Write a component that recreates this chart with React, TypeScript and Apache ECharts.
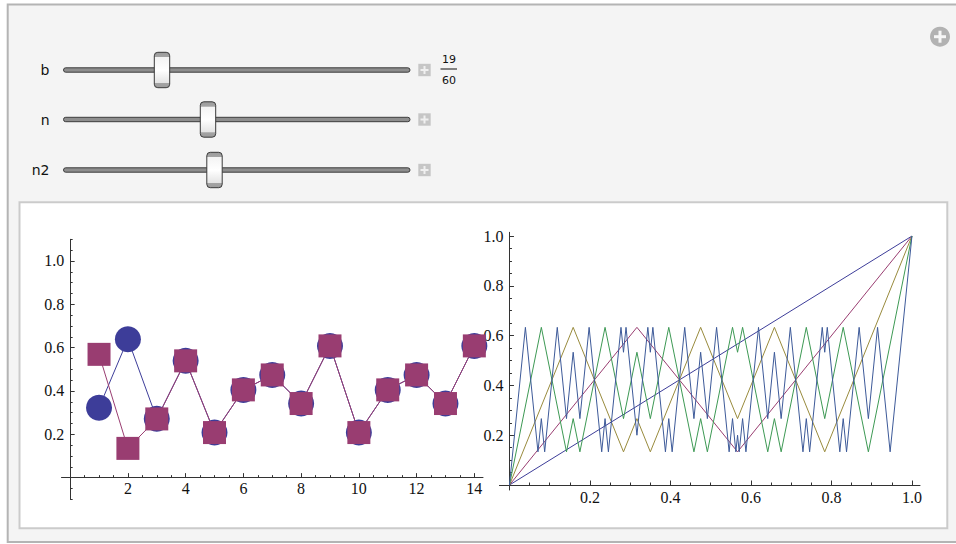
import React, { useEffect, useRef } from 'react';
import * as echarts from 'echarts';

// ---------- data ----------
const steps = [1, 2, 3, 4, 5, 6, 7, 8, 9, 10, 11, 12, 13, 14];
const orbitCircles = [0.323, 0.639, 0.272, 0.539, 0.208, 0.405, 0.474, 0.342, 0.608, 0.208, 0.405, 0.474, 0.342, 0.608];
const orbitSquares = [0.569, 0.135, 0.271, 0.539, 0.208, 0.405, 0.474, 0.342, 0.608, 0.208, 0.405, 0.474, 0.342, 0.608];

const f0X = [0, 1];
const f0Y = [0, 1];
const f1X = [0, 0.3167, 0.5667, 1];
const f1Y = [0, 0.6333, 0.1333, 1];
const f2X = [0, 0.1583, 0.2833, 0.3167, 0.35, 0.475, 0.5667, 0.6583, 0.7833, 1];
const f2Y = [0, 0.6333, 0.1333, 0.2667, 0.1333, 0.6333, 0.2667, 0.6333, 0.1333, 1];
const f3X = [0, 0.0792, 0.1417, 0.1583, 0.175, 0.2375, 0.2833, 0.3167, 0.35, 0.3958, 0.4583, 0.475, 0.4917, 0.5542, 0.5667, 0.5792, 0.6417, 0.6583, 0.675, 0.7375, 0.7833, 0.8292, 0.8917, 1];
const f3Y = [0, 0.6333, 0.1333, 0.2667, 0.1333, 0.6333, 0.2667, 0.5333, 0.2667, 0.6333, 0.1333, 0.2667, 0.1333, 0.6333, 0.5333, 0.6333, 0.1333, 0.2667, 0.1333, 0.6333, 0.2667, 0.6333, 0.1333, 1];
const f4X = [0, 0.0396, 0.0708, 0.0792, 0.0875, 0.1188, 0.1417, 0.1583, 0.175, 0.1979, 0.2292, 0.2375, 0.2458, 0.2771, 0.2833, 0.2896, 0.3167, 0.3438, 0.35, 0.3563, 0.3875, 0.3958, 0.4042, 0.4354, 0.4583, 0.475, 0.4917, 0.5146, 0.5458, 0.5542, 0.5625, 0.5667, 0.5708, 0.5792, 0.5875, 0.6188, 0.6417, 0.6583, 0.675, 0.6979, 0.7292, 0.7375, 0.7458, 0.7771, 0.7833, 0.7896, 0.8208, 0.8292, 0.8375, 0.8688, 0.8917, 0.9146, 0.9458, 1];
const f4Y = [0, 0.6333, 0.1333, 0.2667, 0.1333, 0.6333, 0.2667, 0.5333, 0.2667, 0.6333, 0.1333, 0.2667, 0.1333, 0.6333, 0.5333, 0.6333, 0.2, 0.6333, 0.5333, 0.6333, 0.1333, 0.2667, 0.1333, 0.6333, 0.2667, 0.5333, 0.2667, 0.6333, 0.1333, 0.2667, 0.1333, 0.2, 0.1333, 0.2667, 0.1333, 0.6333, 0.2667, 0.5333, 0.2667, 0.6333, 0.1333, 0.2667, 0.1333, 0.6333, 0.5333, 0.6333, 0.1333, 0.2667, 0.1333, 0.6333, 0.2667, 0.6333, 0.1333, 1];

const leftXMajor = [2, 4, 6, 8, 10, 12, 14];
const leftXMinor = [0.5, 1, 1.5, 2.5, 3, 3.5, 4.5, 5, 5.5, 6.5, 7, 7.5, 8.5, 9, 9.5, 10.5, 11, 11.5, 12.5, 13, 13.5];
const leftYMajor = [0.2, 0.4, 0.6, 0.8, 1.0];
const leftYMinor = [-0.1, -0.05, 0.05, 0.1, 0.15, 0.25, 0.3, 0.35, 0.45, 0.5, 0.55, 0.65, 0.7, 0.75, 0.85, 0.9, 0.95, 1.05, 1.1];
const rightMajor = [0.2, 0.4, 0.6, 0.8, 1.0];
const rightMinor = [0.05, 0.1, 0.15, 0.25, 0.3, 0.35, 0.45, 0.5, 0.55, 0.65, 0.7, 0.75, 0.85, 0.9, 0.95];

const sliderLabels = ['b', 'n', 'n2'];
const fracNum = '19';
const fracDen = '60';

// ---------- styles ----------
const C1 = '#3d3d99';
const C2 = '#993d71';
const C3 = '#998b3d';
const C4 = '#3d9954';
const C5 = '#3d5a99';
const SERIF = "'Liberation Serif', 'Times New Roman', serif";
const SANS = "'DejaVu Sans', 'Noto Sans', sans-serif";
const AX = '#333333';

// plot geometry (pixels)
const L = { left: 61.5, top: 239.3, width: 421.5, height: 260, xMin: -0.3, xMax: 14.3, yMin: -0.1, yMax: 1.1 };
const R = { left: 499.4, top: 232.3, width: 420.6, height: 257.7, xMin: -0.025, xMax: 1.02, yMin: -0.02, yMax: 1.015 };

function zeroOffsets(g: typeof L) {
  const xZeroPx = (0 - g.xMin) / (g.xMax - g.xMin) * g.width; // from grid left
  const yZeroPx = (0 - g.yMin) / (g.yMax - g.yMin) * g.height; // from grid bottom
  return { xAxisOffset: -yZeroPx, yAxisOffset: -xZeroPx };
}

function zip(xs: number[], ys: number[]) {
  return xs.map((x, i) => [x, ys[i]]);
}

function axisPair(gridIndex: number, position: string, offset: number, min: number, max: number, major: number[], minor: number[], margin: number, fmt: (v: number) => string) {
  const common = {
    type: 'value',
    gridIndex,
    position,
    offset,
    min,
    max,
    splitLine: { show: false },
  };
  return [
    {
      ...common,
      axisLine: { show: true, onZero: false, lineStyle: { color: AX, width: 1 } },
      axisTick: { show: true, inside: true, length: 4.5, customValues: major, lineStyle: { color: AX, width: 1 } },
      axisLabel: { show: true, customValues: major, margin, formatter: fmt, fontFamily: SERIF, fontSize: 16, color: '#111' },
    },
    {
      ...common,
      axisLine: { show: false, onZero: false },
      axisTick: { show: true, inside: true, length: 2.5, customValues: minor, lineStyle: { color: AX, width: 1 } },
      axisLabel: { show: false },
    },
  ];
}

function sliderGraphics() {
  const rows = [
    { y: 70, thumb: 162 },
    { y: 119.5, thumb: 208 },
    { y: 170, thumb: 214.5 },
  ];
  const els: any[] = [];
  rows.forEach((r, i) => {
    els.push({
      type: 'text', x: 49.5, y: r.y, style: { text: sliderLabels[i], fontFamily: SANS, fontSize: 14, fill: '#111', align: 'right', verticalAlign: 'middle' },
    });
    els.push({
      type: 'rect', shape: { x: 63.5, y: r.y - 2.2, width: 346.5, height: 4.4, r: 2.2 },
      style: { fill: '#8e8e8e', stroke: '#3c3c3c', lineWidth: 1 },
    });
    els.push({
      type: 'rect', shape: { x: r.thumb - 7.7, y: r.y - 17.7, width: 15.4, height: 35.4, r: 3.5 },
      style: {
        stroke: '#3a3a3a', lineWidth: 1,
        fill: new echarts.graphic.LinearGradient(0, 0, 0, 1, [
          { offset: 0, color: '#9c9c9c' }, { offset: 0.13, color: '#a4a4a4' }, { offset: 0.14, color: '#f4f4f4' },
          { offset: 0.5, color: '#ffffff' }, { offset: 0.86, color: '#e4e4e4' }, { offset: 0.87, color: '#a4a4a4' }, { offset: 1, color: '#9c9c9c' },
        ]),
      },
    });
    els.push({ type: 'rect', shape: { x: 418.3, y: r.y - 6.2, width: 12.4, height: 12.4 }, style: { fill: '#c6c6c6' } });
    els.push({ type: 'rect', shape: { x: 420.5, y: r.y - 1, width: 8, height: 2 }, style: { fill: '#f0f0f0' } });
    els.push({ type: 'rect', shape: { x: 423.5, y: r.y - 4, width: 2, height: 8 }, style: { fill: '#f0f0f0' } });
  });
  els.push({ type: 'text', x: 449, y: 59, style: { text: fracNum, fontFamily: SANS, fontSize: 11, fill: '#111', align: 'center', verticalAlign: 'middle' } });
  els.push({ type: 'line', shape: { x1: 440.5, y1: 69, x2: 457, y2: 69 }, style: { stroke: '#111', lineWidth: 1 } });
  els.push({ type: 'text', x: 449, y: 80.5, style: { text: fracDen, fontFamily: SANS, fontSize: 11, fill: '#111', align: 'center', verticalAlign: 'middle' } });
  // top-right add button
  els.push({ type: 'circle', shape: { cx: 940, cy: 36.7, r: 10 }, style: { fill: '#b2b2b2' } });
  els.push({ type: 'rect', shape: { x: 934, y: 35.2, width: 12, height: 3 }, style: { fill: '#f6f6f6' } });
  els.push({ type: 'rect', shape: { x: 938.5, y: 30.7, width: 3, height: 12 }, style: { fill: '#f6f6f6' } });
  return els;
}

export default function App() {
  const ref = useRef<HTMLDivElement>(null);
  useEffect(() => {
    if (!ref.current) return;
    const chart = echarts.init(ref.current, undefined, { renderer: 'svg' });
    const f1 = (v: number) => v.toFixed(1);
    const fi = (v: number) => String(v);
    const lo = zeroOffsets(L);
    const ro = zeroOffsets(R);
    const xAxes = [
      ...axisPair(0, 'bottom', lo.xAxisOffset, L.xMin, L.xMax, leftXMajor, leftXMinor, 3, fi),
      ...axisPair(1, 'bottom', ro.xAxisOffset, R.xMin, R.xMax, rightMajor, rightMinor, 4, f1),
    ];
    const yAxes = [
      ...axisPair(0, 'left', lo.yAxisOffset, L.yMin, L.yMax, leftYMajor, leftYMinor, 6, f1),
      ...axisPair(1, 'left', ro.yAxisOffset, R.yMin, R.yMax, rightMajor, rightMinor, 6, f1),
    ];
    const curves = [
      { x: f0X, y: f0Y, c: C1 },
      { x: f1X, y: f1Y, c: C2 },
      { x: f2X, y: f2Y, c: C3 },
      { x: f3X, y: f3Y, c: C4 },
      { x: f4X, y: f4Y, c: C5 },
    ];
    const option: any = {
      animation: false,
      backgroundColor: '#ffffff',
      graphic: [
        { type: 'rect', z: -100, shape: { x: 7.7, y: 4.5, width: 970, height: 537.5 }, style: { fill: '#f4f4f4', stroke: '#b4b4b4', lineWidth: 2 } },
        { type: 'rect', z: -99, shape: { x: 19.5, y: 202.3, width: 927.8, height: 326 }, style: { fill: '#ffffff', stroke: '#cbcbcb', lineWidth: 2 } },
        ...sliderGraphics(),
      ],
      grid: [
        { left: L.left, top: L.top, width: L.width, height: L.height, containLabel: false, outerBoundsMode: 'none' },
        { left: R.left, top: R.top, width: R.width, height: R.height, containLabel: false, outerBoundsMode: 'none' },
      ],
      xAxis: xAxes,
      yAxis: yAxes,
      series: [
        {
          type: 'line', xAxisIndex: 0, yAxisIndex: 0, data: zip(steps, orbitCircles),
          symbol: 'circle', symbolSize: 26, showSymbol: true,
          lineStyle: { color: C1, width: 1 }, itemStyle: { color: C1 }, z: 3, silent: true,
        },
        {
          type: 'line', xAxisIndex: 0, yAxisIndex: 0, data: zip(steps, orbitSquares),
          symbol: 'rect', symbolSize: 23, showSymbol: true,
          lineStyle: { color: C2, width: 1 }, itemStyle: { color: C2 }, z: 4, silent: true,
        },
        ...curves.map((cv, i) => ({
          type: 'line', xAxisIndex: 2, yAxisIndex: 2, data: zip(cv.x, cv.y),
          showSymbol: false, symbol: 'none', clip: false, silent: true, z: 2 + i * 0.1,
          lineStyle: { color: cv.c, width: 1 },
        })),
      ],
    };
    chart.setOption(option);
    return () => chart.dispose();
  }, []);
  return <div ref={ref} style={{ position: 'fixed', left: 0, top: 0, width: 956, height: 544 }} />;
}
